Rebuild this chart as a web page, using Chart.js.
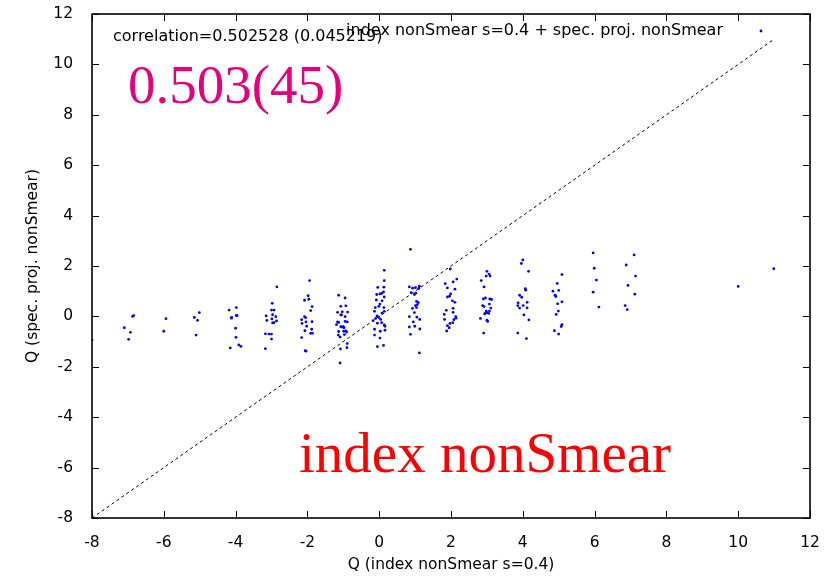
<!DOCTYPE html>
<html>
<head>
<meta charset="utf-8">
<title>Q correlation</title>
<script src="https://cdn.jsdelivr.net/npm/chart.js@4/dist/chart.umd.min.js"></script>
<style>
    html, body { margin: 0; padding: 0; background: #ffffff; }
    #wrap { width: 835px; height: 576px; position: relative; }
</style>
</head>
<body>
<div id="wrap"><canvas id="qChart"></canvas></div>
<script>
// Q from index nonSmear (s=0.4), one entry per configuration
const qIndex = [
    -8.00,
    -7.10, -6.93, -6.98, -6.87, -6.84,
    -5.94, -6.00,
    -5.15, -5.06, -5.01, -5.10,
    -4.18, -3.98, -4.11, -4.12, -3.98, -3.96, -4.00, -3.99, -3.91, -3.85, -4.15,
    -2.85, -2.98, -3.00, -2.93, -2.97, -3.15, -2.88, -2.99, -3.13, -2.86, -2.97, -2.93, -3.17, -3.07, -3.00, -3.00, -3.17,
    -1.94, -1.98, -2.08, -1.96, -1.87, -1.91, -2.08, -2.05, -2.16, -2.04, -1.87, -2.15, -2.02, -2.07, -1.88, -1.91, -1.86, -2.16, -2.06, -2.04,
    -1.13, -0.95, -1.07, -0.93, -1.16, -1.03, -0.88, -1.07, -1.05, -0.95, -1.16, -1.13, -0.95, -0.89, -1.07, -1.00, -1.19, -0.93, -0.91, -1.13, -0.99, -1.14, -1.09, -0.97, -0.89, -1.08, -0.90, -1.09, -0.98, -1.03,
    0.14, 0.14, -0.04, 0.13, 0.12, 0.02, 0.07, -0.07, 0.14, -0.08, 0.08, 0.02, -0.01, 0.13, -0.11, -0.13, 0.14, 0.08, -0.06, -0.01, 0.04, -0.10, -0.17, 0.07, 0.14, 0.16, -0.05, -0.13, 0.03, 0.16, -0.13, 0.02, -0.05, 0.12,
    0.87, 0.84, 0.93, 1.01, 1.10, 1.12, 0.89, 1.02, 0.98, 1.04, 1.09, 1.06, 1.01, 0.93, 1.04, 0.98, 0.84, 1.05, 1.13, 0.95, 0.84, 0.99, 1.13, 0.87, 1.12,
    1.98, 2.16, 1.84, 2.06, 1.90, 2.11, 1.99, 1.96, 1.90, 2.04, 2.11, 1.87, 2.06, 2.06, 2.13, 1.81, 1.82, 2.05, 2.08, 1.90, 1.97, 1.95, 1.88, 2.14,
    3.00, 3.06, 3.09, 2.98, 2.84, 2.92, 2.90, 2.96, 3.08, 3.13, 3.07, 2.88, 2.92, 3.11, 2.98, 3.07, 3.05, 2.94, 2.96, 3.00, 2.82, 3.00, 3.02, 2.91,
    4.00, 3.96, 4.16, 4.07, 4.08, 3.91, 3.97, 3.87, 4.12, 3.86, 4.01, 3.91, 4.12, 4.03, 4.17, 3.86, 4.10,
    5.09, 4.96, 4.84, 5.00, 4.90, 4.92, 5.09, 4.97, 4.99, 4.93, 5.09, 5.07, 4.88, 5.00,
    5.96, 5.99, 6.05, 5.96, 6.12,
    7.10, 6.88, 7.14, 6.93, 7.12, 6.85, 6.91,
    10.00, 10.99
];

// Q from spectral projection nonSmear, same order
const qSpec = [
    -0.94,
    -0.45, -0.63, -0.91, 0.00, 0.03,
    -0.09, -0.59,
    -0.04, -0.16, 0.15, -0.74,
    0.25, 0.35, -0.04, -0.07, 0.04, 0.03, -0.47, -0.83, -1.13, -1.19, -1.25,
    1.17, 0.52, 0.25, 0.25, 0.07, 0.02, -0.01, -0.10, -0.16, -0.18, -0.26, -0.25, -0.69, -0.70, -0.70, -0.90, -1.28,
    1.42, 0.82, 0.64, 0.68, 0.39, 0.23, -0.01, -0.05, -0.13, -0.22, -0.21, -0.28, -0.39, -0.57, -0.51, -0.67, -0.67, -0.84, -1.36, -1.38,
    0.84, 0.73, 0.40, 0.42, 0.16, 0.18, 0.17, 0.06, 0.06, -0.01, -0.22, -0.24, -0.20, -0.22, -0.41, -0.41, -0.33, -0.58, -0.62, -0.60, -0.59, -0.74, -0.82, -0.72, -1.08, -1.29, -1.24, -1.85, -0.45, -0.42,
    1.83, 1.42, 1.15, 1.16, 0.97, 0.89, 0.91, 0.87, 0.77, 0.65, 0.62, 0.49, 0.40, 0.35, 0.35, 0.20, 0.20, 0.13, 0.02, -0.04, -0.12, -0.08, -0.17, -0.25, -0.34, -0.39, -0.27, -0.51, -0.59, -0.55, -0.74, -0.86, -1.20, -1.15,
    2.66, 1.17, 1.12, 1.14, 1.11, 1.20, 0.94, 0.92, 0.87, 0.60, 0.55, 0.47, 0.43, 0.32, 0.35, 0.15, -0.01, -0.03, -0.12, -0.22, -0.42, -0.39, -0.50, -0.71, -1.45,
    1.88, 1.48, 1.30, 1.37, 1.13, 1.08, 0.89, 0.80, 0.77, 0.62, 0.56, 0.24, 0.32, 0.16, -0.01, 0.08, -0.12, -0.25, -0.13, -0.37, -0.28, -0.45, -0.58, -0.07,
    1.79, 1.68, 1.60, 1.60, 1.42, 1.17, 0.69, 0.73, 0.69, 0.67, 0.49, 0.43, 0.39, 0.33, 0.21, 0.21, 0.12, 0.10, 0.13, 0.15, -0.08, -0.15, -0.20, -0.66,
    2.24, 2.10, 1.79, 1.10, 1.04, 0.84, 0.76, 0.54, 0.56, 0.43, 0.43, 0.33, 0.34, 0.06, -0.14, -0.66, -0.88,
    1.66, 1.31, 1.00, 1.03, 0.84, 0.79, 0.58, 0.50, 0.21, 0.08, -0.33, -0.40, -0.57, -0.70,
    2.52, 1.91, 1.44, 0.96, 0.37,
    2.44, 2.04, 1.60, 1.23, 0.88, 0.43, 0.27,
    1.19, 1.89
];

// y = x reference line
const diagonal = [-8, 11];

const axisTicks = [-8, -6, -4, -2, 0, 2, 4, 6, 8, 10, 12];

const keyLabel = 'index nonSmear s=0.4 + spec. proj. nonSmear';
const corrLabel = 'correlation=0.502528 (0.045219)';
const corrValue = '0.503(45)';
const ensembleLabel = 'index nonSmear';

const sansFont = '"DejaVu Sans", Verdana, sans-serif';
const serifFont = '"Liberation Serif", "DejaVu Serif", serif';

// gnuplot-style frame: full border with inward ticks on every side, plus key and labels
const framePlugin = {
    id: 'frame',
    afterDatasetsDraw(chart) {
        const { ctx, chartArea: a, scales } = chart;
        const tl = 7;
        ctx.save();
        ctx.strokeStyle = '#000';
        ctx.lineWidth = 1;
        axisTicks.forEach(v => {
            const px = Math.round(scales.x.getPixelForValue(v)) + 0.5;
            const py = Math.round(scales.y.getPixelForValue(v)) + 0.5;
            ctx.beginPath();
            ctx.moveTo(px, a.bottom); ctx.lineTo(px, a.bottom - tl);
            ctx.moveTo(px, a.top); ctx.lineTo(px, a.top + tl);
            ctx.moveTo(a.left, py); ctx.lineTo(a.left + tl, py);
            ctx.moveTo(a.right, py); ctx.lineTo(a.right - tl, py);
            ctx.stroke();
        });
        ctx.lineWidth = 1.6;
        ctx.strokeRect(a.left, a.top, a.right - a.left, a.bottom - a.top);

        ctx.font = '16px ' + sansFont;
        ctx.fillStyle = '#000';
        ctx.textBaseline = 'middle';
        ctx.textAlign = 'left';
        ctx.fillText(corrLabel, 113, 37);
        ctx.textAlign = 'right';
        ctx.fillText(keyLabel, 723, 31);
        ctx.fillStyle = '#0000ff';
        ctx.beginPath();
        ctx.arc(761, 31, 1.4, 0, Math.PI * 2);
        ctx.fill();

        ctx.textBaseline = 'alphabetic';
        ctx.textAlign = 'left';
        ctx.font = '55px ' + serifFont;
        ctx.fillStyle = '#e5007e';
        ctx.fillText(corrValue, 128, 103);
        ctx.font = '57px ' + serifFont;
        ctx.fillStyle = '#ff0000';
        ctx.fillText(ensembleLabel, 299, 472);
        ctx.restore();
    }
};

function initQChart() {
    const ctx = document.getElementById('qChart');
    const points = qIndex.map((x, i) => ({ x: x, y: qSpec[i] }));

    const tickStyle = {
        color: '#000',
        font: { family: sansFont, size: 15.5 },
        stepSize: 2
    };

    new Chart(ctx, {
        type: 'scatter',
        data: {
            datasets: [{
                data: points,
                pointRadius: 1.4,
                pointHoverRadius: 1.4,
                pointBorderWidth: 0,
                backgroundColor: '#0000ff',
                borderColor: '#0000ff'
            }, {
                data: diagonal.map(v => ({ x: v, y: v })),
                showLine: true,
                pointRadius: 0,
                borderColor: '#000',
                borderWidth: 1,
                borderDash: [3, 3]
            }]
        },
        options: {
            responsive: true,
            maintainAspectRatio: false,
            animation: false,
            layout: { padding: { top: 14, right: 25, left: 0, bottom: 0 } },
            plugins: {
                legend: { display: false },
                tooltip: { enabled: false }
            },
            scales: {
                x: {
                    type: 'linear',
                    min: -8,
                    max: 12,
                    grid: { display: false },
                    border: { display: false },
                    ticks: Object.assign({ padding: 8 }, tickStyle),
                    title: {
                        display: true,
                        text: 'Q (index nonSmear s=0.4)',
                        color: '#000',
                        font: { family: sansFont, size: 15.5 },
                        padding: { top: 0, bottom: 2 }
                    },
                    afterFit(scale) { scale.height = 58; }
                },
                y: {
                    type: 'linear',
                    min: -8,
                    max: 12,
                    grid: { display: false },
                    border: { display: false },
                    ticks: Object.assign({ padding: 11 }, tickStyle),
                    title: {
                        display: true,
                        text: 'Q (spec. proj. nonSmear)',
                        color: '#000',
                        font: { family: sansFont, size: 15.5 },
                        padding: { top: 24, bottom: 0 }
                    },
                    afterFit(scale) {
                        scale.width = 92;
                        scale.paddingTop = 0;
                        scale.paddingBottom = 0;
                    }
                }
            }
        },
        plugins: [framePlugin]
    });
}

document.addEventListener('DOMContentLoaded', initQChart);
</script>
</body>
</html>
